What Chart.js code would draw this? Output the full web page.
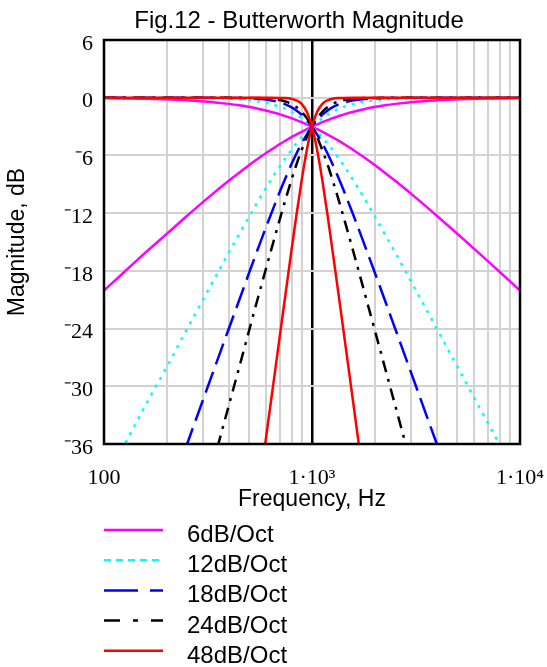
<!DOCTYPE html>
<html>
<head>
<meta charset="utf-8">
<script src="https://cdn.jsdelivr.net/npm/chart.js@4.4.1/dist/chart.umd.min.js"></script>
<style>
  html, body { margin: 0; padding: 0; background: #fff; }
  #wrap { width: 547px; height: 667px; }
</style>
</head>
<body>
<div id="wrap"><canvas id="chart"></canvas></div>
<script>
/* Butterworth magnitude, low-pass + high-pass at fc = 1 kHz */

const freqHz = [100, 126, 158, 200, 251, 316, 398, 447, 501, 562, 631, 708, 750, 794, 841, 891, 944,
  1000, 1059, 1122, 1189, 1259, 1334, 1413, 1585, 1778, 1995, 2239, 2512, 3162, 3981, 5012, 6310, 7943, 10000];

// low-pass curves (dB)
const lp6 = [-0.04, -0.07, -0.11, -0.17, -0.27, -0.41, -0.64, -0.79, -0.97, -1.19, -1.46, -1.76, -1.94, -2.12, -2.33, -2.54, -2.77,
  -3.01, -3.27, -3.54, -3.83, -4.12, -4.44, -4.76, -5.46, -6.19, -6.97, -7.79, -8.64, -10.41, -12.27, -14.17, -16.11, -18.07, -20.04];
const lp12 = [0, 0, 0, -0.01, -0.02, -0.04, -0.11, -0.17, -0.27, -0.41, -0.64, -0.97, -1.19, -1.46, -1.76, -2.12, -2.54,
  -3.01, -3.54, -4.12, -4.76, -5.46, -6.19, -6.97, -8.64, -10.41, -12.27, -14.17, -16.11, -20.04, -24.02, -28.01, -32.00, -36.00, -40.00];
const lp18 = [0, 0, 0, 0, 0, 0, -0.02, -0.03, -0.07, -0.14, -0.27, -0.52, -0.71, -0.97, -1.32, -1.76, -2.33,
  -3.01, -3.83, -4.76, -5.82, -6.97, -8.21, -9.52, -12.27, -15.14, -18.07, -21.03, -24.02, -30.00, -36.00, -42.00, -48.00, -54.00, -60.00];
const lp24 = [0, 0, 0, 0, 0, 0, 0, -0.01, -0.02, -0.04, -0.11, -0.27, -0.41, -0.64, -0.97, -1.46, -2.12,
  -3.01, -4.12, -5.46, -6.97, -8.64, -10.41, -12.27, -16.11, -20.04, -24.02, -28.01, -32.00, -40.00, -48.00, -56.00, -64.00, -72.00, -80.00];
const lp48 = [0, 0, 0, 0, 0, 0, 0, 0, 0, 0, 0, -0.02, -0.04, -0.11, -0.27, -0.64, -1.46,
  -3.01, -5.46, -8.64, -12.27, -16.11, -20.04, -24.02, -32.00, -40.00, -48.00, -56.00, -64.00, -80.00, -96.00, -112.00, -128.00, -144.00, -160.00];

// high-pass curves (dB)
const hp6 = [-20.04, -18.07, -16.11, -14.17, -12.27, -10.41, -8.64, -7.79, -6.97, -6.19, -5.46, -4.76, -4.44, -4.12, -3.83, -3.54, -3.27,
  -3.01, -2.77, -2.54, -2.33, -2.12, -1.94, -1.76, -1.46, -1.19, -0.97, -0.79, -0.64, -0.41, -0.27, -0.17, -0.11, -0.07, -0.04];
const hp12 = [-40.00, -36.00, -32.00, -28.01, -24.02, -20.04, -16.11, -14.17, -12.27, -10.41, -8.64, -6.97, -6.19, -5.46, -4.76, -4.12, -3.54,
  -3.01, -2.54, -2.12, -1.76, -1.46, -1.19, -0.97, -0.64, -0.41, -0.27, -0.17, -0.11, -0.04, -0.02, -0.01, 0, 0, 0];
const hp18 = [-60.00, -54.00, -48.00, -42.00, -36.00, -30.00, -24.02, -21.03, -18.07, -15.14, -12.27, -9.52, -8.21, -6.97, -5.82, -4.76, -3.83,
  -3.01, -2.33, -1.76, -1.32, -0.97, -0.71, -0.52, -0.27, -0.14, -0.07, -0.03, -0.02, 0, 0, 0, 0, 0, 0];
const hp24 = [-80.00, -72.00, -64.00, -56.00, -48.00, -40.00, -32.00, -28.01, -24.02, -20.04, -16.11, -12.27, -10.41, -8.64, -6.97, -5.46, -4.12,
  -3.01, -2.12, -1.46, -0.97, -0.64, -0.41, -0.27, -0.11, -0.04, -0.02, -0.01, 0, 0, 0, 0, 0, 0, 0];
const hp48 = [-160.00, -144.00, -128.00, -112.00, -96.00, -80.00, -64.00, -56.00, -48.00, -40.00, -32.00, -24.02, -20.04, -16.11, -12.27, -8.64, -5.46,
  -3.01, -1.46, -0.64, -0.27, -0.11, -0.04, -0.02, 0, 0, 0, 0, 0, 0, 0, 0, 0, 0, 0];

const seriesNames = ['6dB/Oct', '12dB/Oct', '18dB/Oct', '24dB/Oct', '48dB/Oct'];
const lowPass = [lp6, lp12, lp18, lp24, lp48];
const highPass = [hp6, hp12, hp18, hp24, hp48];

const xGridTicks = [100, 200, 300, 400, 500, 600, 700, 800, 900,
  1000, 2000, 3000, 4000, 5000, 6000, 7000, 8000, 9000, 10000];
const xLabelValues = [100, 1000, 10000];
const xLabelTexts = ['100', '1\u00b710\u00b3', '1\u00b710\u2074'];
const yTicks = [-36, -30, -24, -18, -12, -6, 0, 6];
const yTickLabels = ['\u207b36', '\u207b30', '\u207b24', '\u207b18', '\u207b12', '\u207b6', '0', '6'];

// styles
const styles = [
  { color: '#ff00ff', dash: [], legendDash: [], order: 4 },
  { color: '#00ffff', dash: [3, 6], legendDash: [7, 5], order: 3 },
  { color: '#0000ff', dash: [22, 8], legendDash: [34, 12], order: 2 },
  { color: '#000000', dash: [12, 7, 3, 7], legendDash: [16, 13, 5, 13], order: 1 },
  { color: '#ff0000', dash: [], legendDash: [], order: 0 }
];

const SANS = '"Liberation Sans", Arial, sans-serif';
const SERIF = '"Liberation Serif", "Times New Roman", serif';

function makeDataset(name, values, st) {
  return {
    label: name,
    data: freqHz.map((f, i) => ({ x: f, y: values[i] })),
    borderColor: st.color,
    backgroundColor: st.color,
    borderWidth: 2.5,
    borderDash: st.dash,
    pointRadius: 0,
    cubicInterpolationMode: 'monotone',
    clip: 0,
    order: st.order
  };
}

const datasets = [];
seriesNames.forEach((name, i) => {
  datasets.push(makeDataset(name, lowPass[i], styles[i]));
  datasets.push(makeDataset(name, highPass[i], styles[i]));
});

// title, frame and the vertical legend below the axis
const decorPlugin = {
  id: 'decor',
  afterDatasetsDraw(chart) {
    const { ctx, chartArea: a } = chart;
    ctx.save();
    ctx.strokeStyle = '#000';
    ctx.lineWidth = 2.5;
    ctx.strokeRect(a.left, a.top, a.right - a.left, a.bottom - a.top);
    ctx.restore();
  },
  afterDraw(chart) {
    const { ctx } = chart;
    ctx.save();
    ctx.fillStyle = '#000';
    ctx.font = '24px ' + SANS;
    ctx.textAlign = 'center';
    ctx.textBaseline = 'alphabetic';
    ctx.fillText('Fig.12 - Butterworth Magnitude', 299, 28);

    ctx.textAlign = 'left';
    seriesNames.forEach((name, i) => {
      const base = 542 + i * 30.2;
      const ly = base - 12;
      ctx.strokeStyle = styles[i].color;
      ctx.lineWidth = 2.5;
      ctx.setLineDash(styles[i].legendDash);
      ctx.beginPath();
      ctx.moveTo(104, ly);
      ctx.lineTo(163, ly);
      ctx.stroke();
      ctx.setLineDash([]);
      ctx.fillStyle = '#000';
      ctx.fillText(name, 187, base);
    });
    ctx.restore();
  }
};

new Chart(document.getElementById('chart'), {
  type: 'line',
  data: { datasets },
  plugins: [decorPlugin],
  options: {
    responsive: true,
    maintainAspectRatio: false,
    animation: false,
    layout: { padding: { top: 40, right: 27, bottom: 153, left: 0 } },
    plugins: {
      legend: { display: false },
      title: { display: false },
      tooltip: { enabled: false }
    },
    scales: {
      x: {
        type: 'logarithmic',
        min: 100,
        max: 10000,
        afterBuildTicks: s => { s.ticks = xGridTicks.map(v => ({ value: v })); },
        afterFit: s => { s.height = 70; s.paddingLeft = 0; s.paddingRight = 0; },
        border: { display: false },
        grid: {
          drawTicks: false,
          color: c => (c.tick && c.tick.value === 1000 ? '#000' : '#d2d2d2'),
          lineWidth: c => (c.tick && c.tick.value === 1000 ? 2.5 : 2)
        },
        ticks: {
          autoSkip: false,
          maxRotation: 0,
          padding: 21,
          color: '#000',
          font: { family: SERIF, size: 22 },
          callback: v => {
            const k = xLabelValues.indexOf(v);
            return k >= 0 ? xLabelTexts[k] : '';
          }
        },
        title: {
          display: true,
          text: 'Frequency, Hz',
          color: '#000',
          font: { family: SANS, size: 23 },
          padding: { top: 0, bottom: 1 }
        }
      },
      y: {
        min: -36,
        max: 6,
        afterBuildTicks: s => { s.ticks = yTicks.map(v => ({ value: v })); },
        afterFit: s => { s.width = 104; },
        border: { display: false },
        grid: { drawTicks: false, color: '#d2d2d2', lineWidth: 2 },
        ticks: {
          padding: 11,
          labelOffset: 4,
          color: '#000',
          font: { family: SERIF, size: 22 },
          callback: v => yTickLabels[yTicks.indexOf(v)]
        },
        title: {
          display: true,
          text: 'Magnitude, dB',
          color: '#000',
          font: { family: SANS, size: 23 },
          padding: { top: 4, bottom: 0 }
        }
      }
    }
  }
});
</script>
</body>
</html>
